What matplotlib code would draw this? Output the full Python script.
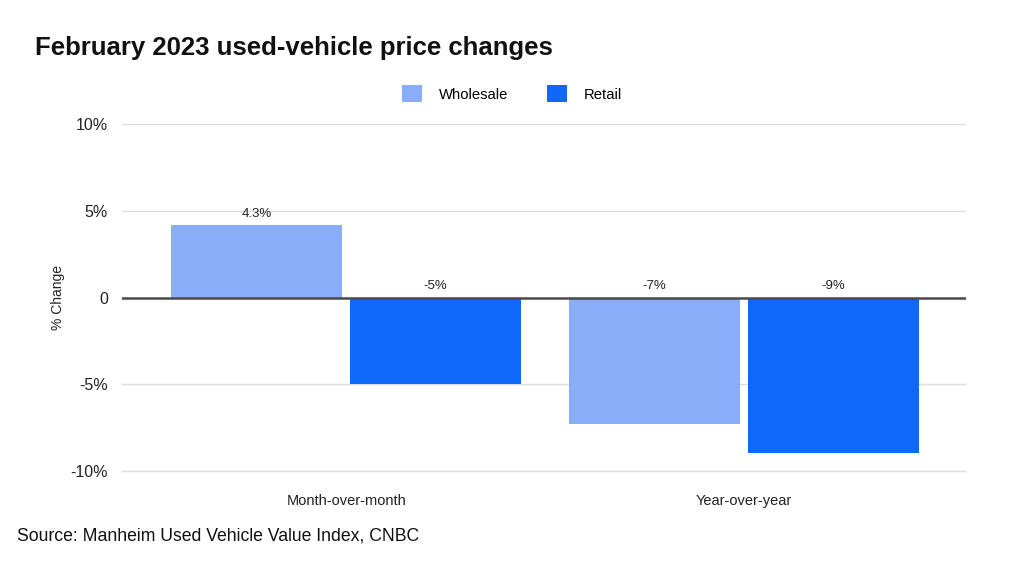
import numpy as np
import matplotlib.pyplot as plt

plt.rcParams['font.family'] = ['Liberation Sans', 'DejaVu Sans']

categories = ["Month-over-month", "Year-over-year"]
series = ["Wholesale", "Retail"]
wholesale = [4.15, -7.3]
retail = [-4.95, -8.93]
wholesale_labels = ["4.3%", "-7%"]
retail_labels = ["-5%", "-9%"]
colors = ["#8aadfa", "#0e68fa"]

fig = plt.figure(figsize=(10.24, 5.65), dpi=100)
ax = fig.add_axes([0.119, 0.1628, 0.824, 0.6213])

x = np.arange(len(categories))
w = 0.43
off = 0.2245
for vals, labs, col, sgn, name in [(wholesale, wholesale_labels, colors[0], -1, series[0]),
                                   (retail, retail_labels, colors[1], 1, series[1])]:
    ax.bar(x + sgn * off, vals, width=w, color=col, label=name, zorder=2)
    for xi, v, lab in zip(x + sgn * off, vals, labs):
        ax.annotate(lab, (xi, max(v, 0)), xytext=(0, 4), textcoords="offset points",
                    ha="center", va="bottom", fontsize=9.5, color="#222222")

ax.set_xlim(-0.564, 1.557)
ax.set_ylim(-10.1, 10.1)
ax.set_yticks([-10, -5, 0, 5, 10])
ax.set_yticklabels(["-10%", "-5%", "0", "5%", "10%"])
ax.set_xticks(x)
ax.set_xticklabels(categories)
ax.grid(axis="y", color="#dddddd", linewidth=1, zorder=0)
ax.axhline(0, color="#4a4a4a", linewidth=1.8, zorder=3)
for s in ax.spines.values():
    s.set_visible(False)
ax.tick_params(axis="y", length=0, pad=10, labelsize=11.5, labelcolor="#222222")
ax.tick_params(axis="x", length=0, pad=15, labelsize=10.5, labelcolor="#222222")
ax.set_ylabel("% Change", fontsize=10, color="#222222", labelpad=4)

fig.legend(loc="center", bbox_to_anchor=(0.5, 0.834), ncol=2, frameon=False,
           fontsize=10.7, handlelength=1.35, handleheight=1.35, columnspacing=2.6,
           handletextpad=1.15)

fig.text(0.034, 0.915, "February 2023 used-vehicle price changes", fontsize=18.5,
         fontweight="bold", va="center", color="#111111")
fig.text(0.017, 0.051, "Source: Manheim Used Vehicle Value Index, CNBC", fontsize=12.7,
         va="center", color="#111111")

fig.savefig("out.png", dpi=100)
